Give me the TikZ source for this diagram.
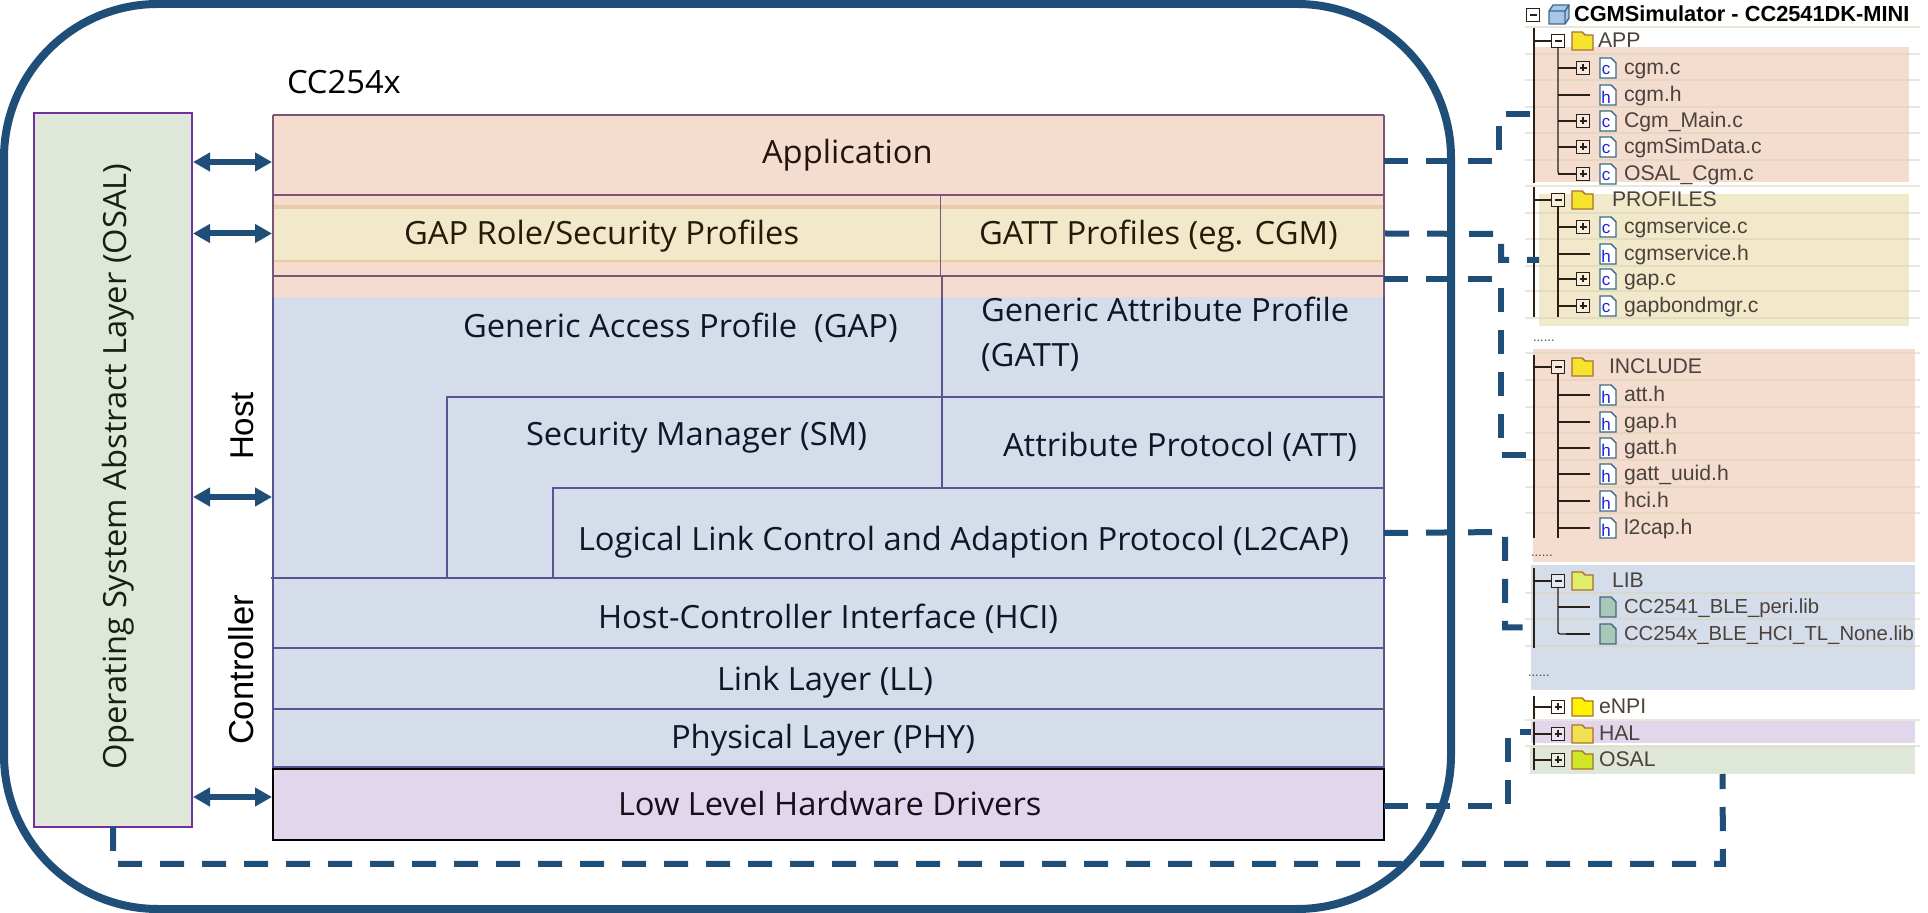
\documentclass[tikz,border=0pt]{standalone}
\usepackage{fontspec}
\setmainfont{Open Sans}[FakeStretch=1.022]
\newfontfamily\treefont{Liberation Sans}
\newfontfamily\armfont{Liberation Sans}
\usetikzlibrary{arrows.meta,fit,calc}
\definecolor{navy}{HTML}{1F4E79}
\definecolor{purp}{HTML}{7030A0}
\definecolor{peach}{HTML}{F4DDCF}
\definecolor{bluef}{HTML}{D6DDEA}
\definecolor{greenf}{HTML}{DEE7D8}
\definecolor{lilac}{HTML}{E2D6EC}
\definecolor{sand}{HTML}{F2E9CB}
\definecolor{sandedge}{HTML}{EACBA6}
\definecolor{ruleP}{HTML}{7B5478}
\definecolor{ruleB}{HTML}{5C5491}
\definecolor{txtP}{HTML}{24140C}
\definecolor{txtS}{HTML}{241B08}
\definecolor{txtB}{HTML}{0E1729}
\definecolor{txtG}{HTML}{18200F}
\definecolor{txtL}{HTML}{141019}
\definecolor{treeink}{HTML}{2A2018}
\definecolor{sepc}{HTML}{D9D3B8}
\definecolor{iconb}{HTML}{3B6A86}
\definecolor{iconl}{HTML}{1F22D8}
\definecolor{libf}{HTML}{A9C8B8}
\definecolor{foldb}{HTML}{A9702E}
\definecolor{foldy}{HTML}{F5E32E}
\definecolor{cubef}{HTML}{A8C6E8}
\tikzset{
  area/.style={fit={#1},inner sep=0pt,outer sep=0pt,draw=none},
  stacktext/.style={anchor=base west,inner sep=0pt,outer sep=0pt,font=\fontsize{16}{19}\selectfont},
  treetext/.style={anchor=base west,inner sep=0pt,outer sep=0pt,text=treeink!85!white,font=\treefont\fontsize{10.6}{12}\selectfont},
  libtext/.style={treetext,font=\treefont\fontsize{10.15}{12}\selectfont},
  dottext/.style={treetext,font=\treefont\fontsize{6.5}{7}\selectfont},
  linkline/.style={draw=navy,line width=3pt,dash pattern=on 12pt off 9pt},
  biarrow/.style={draw=navy,line width=3pt,{Triangle[length=8.5pt,width=9pt]}-{Triangle[length=8.5pt,width=9pt]},shorten <=0.5pt,shorten >=0.5pt},
  ruleline/.style={line width=0.7pt},
  treeline/.style={draw=treeink,line width=0.65pt},
  sepline/.style={draw=sepc,line width=0.7pt,opacity=0.55},
}
\newcommand{\toggle}[3]{% x,y,plus flag
  \draw[treeline,fill=white,fill opacity=0.35] (#1-6.5,#2-6.5) rectangle (#1+6.5,#2+6.5);
  \draw[treeline] (#1-3.5,#2) -- (#1+3.5,#2);
  \ifnum#3=1 \draw[treeline] (#1,#2-3.5) -- (#1,#2+3.5);\fi
}
\newcommand{\fileicon}[4]{% id,y,letter,fill
  \draw[draw=iconb,line width=0.7pt,fill=#4] (1600,#2-10) -- (1611,#2-10) -- (1616,#2-5) -- (1616,#2+10) -- (1600,#2+10) -- cycle;
  \node[inner sep=0pt,text=iconl,font=\treefont\fontsize{8.5}{9}\selectfont] (#1-glyph) at (1606,#2+2) {#3};
}
\newcommand{\filerow}[5]{% id,y,letter,label,plus
  \ifnum#5=1
    \draw[treeline] (1558,#2) -- (1577,#2);
    \toggle{1583}{#2}{1}
  \else
    \draw[treeline] (1558,#2) -- (1590,#2);
  \fi
  \fileicon{#1}{#2}{#3}{white}
  \node[treetext] (#1) at (1624,#2+7) {#4};
}
\newcommand{\foldericon}[2]{% y,colour
  \draw[draw=foldb,line width=0.7pt,fill=#2] (1572,#1+9) -- (1572,#1-9) -- (1582,#1-9) -- (1585,#1-6) -- (1593,#1-6) -- (1593,#1+9) -- cycle;
}
\newcommand{\folderrow}[6]{% id,y,colour,labelx,label,plus
  \draw[treeline] (1534,#2) -- (1551,#2);
  \toggle{1558}{#2}{#6}
  \foldericon{#2}{#3}
  \node[treetext] (#1) at (#4,#2+7) {#5};
}
\begin{document}
\begin{tikzpicture}[x=0.5pt,y=-0.5pt]
\useasboundingbox (0,0) rectangle (1928,913);
\fill[white] (0,0) rectangle (1928,913);

% ---- file tree bands
\node[area={(1534,47)(1909,182)},fill=peach] (tapp) {};
\node[area={(1539,194)(1909,326)},fill=sand] (tprof) {};
\node[area={(1533,349)(1915,562)},fill=peach] (tinc) {};
\node[area={(1531,565)(1915,690)},fill=bluef] (tlib) {};
\node[area={(1531,721)(1915,743)},fill=lilac] (thal) {};
\node[area={(1530,746)(1915,774)},fill=greenf] (tosal) {};
\foreach \s in {27,54,80,107,133,160,186,213,239,266,291,318,353,380,407,433,460,487,513,593,619,646,720,746}
  \draw[sepline] (1525,\s) -- (1920,\s);

% ---- tree trunks
\draw[treeline] (1534,28) -- (1534,183) (1534,187) -- (1534,317);
\draw[treeline] (1534,355) -- (1534,538) (1534,568) -- (1534,648);
\draw[treeline] (1534,696) -- (1534,719) (1534,722) -- (1534,745) (1534,748) -- (1534,770);
\draw[treeline,rounded corners=1pt] (1558,47) -- (1558,174) -- (1566,174);
\draw[treeline] (1558,206) -- (1558,317);
\draw[treeline] (1558,373) -- (1558,538);
\draw[treeline,rounded corners=1pt] (1558,587) -- (1558,634) -- (1566,634);

% ---- root
\toggle{1533}{15}{0}
\draw[draw=iconb,line width=0.7pt,fill=cubef] (1549,11) -- (1553,5) -- (1569,5) -- (1569,18) -- (1565,24) -- (1549,24) -- cycle;
\draw[draw=iconb,line width=0.7pt] (1549,11) -- (1565,11) -- (1569,5) (1565,11) -- (1565,24);
\node[treetext,font=\treefont\bfseries\fontsize{10.9}{12}\selectfont,text=black] (root) at (1574,22) {CGMSimulator - CC2541DK-MINI};

% ---- APP
\folderrow{fapp}{41}{foldy}{1598}{APP}{0}
\filerow{cgmc}{68}{c}{cgm.c}{1}
\filerow{cgmh}{95}{h}{cgm.h}{0}
\filerow{cgmmain}{121}{c}{Cgm\_Main.c}{1}
\filerow{cgmsim}{147}{c}{cgmSimData.c}{1}
\filerow{osalcgm}{174}{c}{OSAL\_Cgm.c}{1}
% ---- PROFILES
\folderrow{fprof}{200}{foldy}{1612}{PROFILES}{0}
\filerow{svc}{227}{c}{cgmservice.c}{1}
\filerow{svh}{254}{h}{cgmservice.h}{0}
\filerow{gapc}{279}{c}{gap.c}{1}
\filerow{gapb}{306}{c}{gapbondmgr.c}{1}
\node[dottext] (dots1) at (1533,342) {......};
% ---- INCLUDE
\folderrow{finc}{367}{foldy}{1609}{INCLUDE}{0}
\filerow{atth}{395}{h}{att.h}{0}
\filerow{gaph}{422}{h}{gap.h}{0}
\filerow{gatth}{448}{h}{gatt.h}{0}
\filerow{uuidh}{474}{h}{gatt\_uuid.h}{0}
\filerow{hcih}{501}{h}{hci.h}{0}
\filerow{l2h}{528}{h}{l2cap.h}{0}
\node[dottext] (dots2) at (1531,557) {......};
% ---- LIB
\folderrow{flib}{581}{foldy!85!green!70!white}{1612}{LIB}{0}
\draw[treeline] (1558,607) -- (1590,607);
\draw[treeline] (1566,634) -- (1590,634);
\fileicon{lib1i}{607}{}{libf}
\node[libtext] (lib1) at (1624,614) {CC2541\_BLE\_peri.lib};
\fileicon{lib2i}{634}{}{libf}
\node[libtext] (lib2) at (1624,641) {CC254x\_BLE\_HCI\_TL\_None.lib};
\node[dottext] (dots3) at (1528,677) {......};
% ---- others
\folderrow{fenpi}{707}{yellow}{1599}{eNPI}{1}
\folderrow{fhal}{734}{foldy!80!lilac}{1599}{HAL}{1}
\folderrow{fosal}{760}{foldy!85!green}{1599}{OSAL}{1}

% ---- stack
\node[area={(273,115)(1384,297)},fill=peach] (peachzone) {};
\node[area={(273,297)(1384,767)},fill=bluef] (bluezone) {};
\node[area={(273,205)(1385,262)},fill=sand] (gband) {};
\fill[sandedge] (273,205) rectangle (1385,209);
\fill[sandedge] (273,260) rectangle (1385,262);
\node[area={(273,115)(1384,195)}] (app) {};
\node[area={(273,276)(1384,297)}] (strip) {};
\node[area={(553,488)(1384,578)}] (l2cap) {};
\draw[ruleP,ruleline] (273,115) -- (1384,115) (273,195) -- (1384,195) (273,276) -- (1384,276);
\draw[ruleP,ruleline] (273,115) -- (273,297) (1384,115) -- (1384,297);
\draw[ruleP,ruleline] (940.5,195) -- (940.5,276);
\draw[ruleP,ruleline] (942,276) -- (942,297);
\draw[ruleB,ruleline] (273,297) -- (273,767) -- (1384,767) -- (1384,297);
\draw[ruleB,ruleline] (942,297) -- (942,488);
\draw[ruleB,ruleline] (447,578) -- (447,397) -- (1384,397);
\draw[ruleB,ruleline] (553,578) -- (553,488) -- (1384,488);
\draw[ruleB,line width=1pt] (271,578) -- (1386,578);
\draw[ruleB,ruleline] (273,648) -- (1384,648) (273,709) -- (1384,709);
\node[area={(273,769)(1384,840)},fill=lilac,draw=black,line width=1pt] (low) {};

% ---- OSAL box
\node[area={(34,113)(192,827)},fill=greenf,draw=purp,line width=1pt] (osal) {};

% ---- stack texts
\node[stacktext,text=black] (chip) at (287,94) {CC254x};
\node[stacktext,text=txtP] (tapplication) at (762,164) {Application};
\node[stacktext,text=txtS] (tgaprole) at (404,245) {GAP Role/Security Profiles};
\node[stacktext,text=txtS] (tgattprof) at (979,245) {GATT Profiles (eg. CGM)};
\node[stacktext,text=txtB] (tgap) at (463,338) {Generic Access Profile\ \ (GAP)};
\node[stacktext,text=txtB] (tgatt1) at (981,322) {Generic Attribute Profile};
\node[stacktext,text=txtB] (tgatt2) at (981,367) {(GATT)};
\node[stacktext,text=txtB] (tsm) at (526,446) {Security Manager (SM)};
\node[stacktext,text=txtB] (tatt) at (1003,457) {Attribute Protocol (ATT)};
\node[stacktext,text=txtB] (tl2) at (578,551) {Logical Link Control and Adaption Protocol (L2CAP)};
\node[stacktext,text=txtB] (thci) at (598,629) {Host-Controller Interface (HCI)};
\node[stacktext,text=txtB] (tll) at (717,691) {Link Layer (LL)};
\node[stacktext,text=txtB] (tphy) at (671,749) {Physical Layer (PHY)};
\node[stacktext,text=txtL] (tlow) at (618,816) {Low Level Hardware Drivers};
\node[stacktext,text=txtG,rotate=90] (tosalname) at (126,770) {Operating System Abstract Layer (OSAL)};
\node[stacktext,rotate=90,text=black,font=\armfont\fontsize{16.5}{19}\selectfont] (thost) at (253.5,460) {Host};
\node[stacktext,rotate=90,text=black,font=\armfont\fontsize{17.3}{19}\selectfont] (tctrl) at (253.5,745) {Controller};

% ---- outer frame
\draw[navy,line width=4pt,rounded corners=77pt] (4,4) rectangle (1451,909);

% ---- double arrows
\coordinate (hostport) at (273,497);
\draw[biarrow] ([yshift=-3.5pt]osal.east |- app.west) -- ([yshift=-3.5pt]app.west);
\draw[biarrow] (osal.east |- gband.west) -- (gband.west);
\draw[biarrow] (osal.east |- hostport) -- (hostport);
\draw[biarrow] ([yshift=3.75pt]osal.east |- low.west) -- ([yshift=3.75pt]low.west);

% ---- dashed links
\coordinate (b1) at (1499,161);
\coordinate (b2) at (1501,234);
\coordinate (b3) at (1501,279);
\coordinate (b4) at (1505,532);
\coordinate (b5) at (1508,806);
\coordinate (b6) at (1723,864);
\draw[linkline] ([yshift=-3pt]app.east) -- (b1) |- (tapp.west);
\draw[linkline] (gband.east) -- (b2) |- (tprof.west);
\draw[linkline] ([yshift=3.75pt]strip.east) -- (b3) |- (tinc.west);
\draw[linkline] (l2cap.east) -- (b4) |- (tlib.west);
\draw[linkline] ([yshift=-0.75pt]low.east) -- (b5) |- (thal.west);
\draw[linkline] (osal.south) |- (b6) -- (tosal.south);
\end{tikzpicture}
\end{document}
